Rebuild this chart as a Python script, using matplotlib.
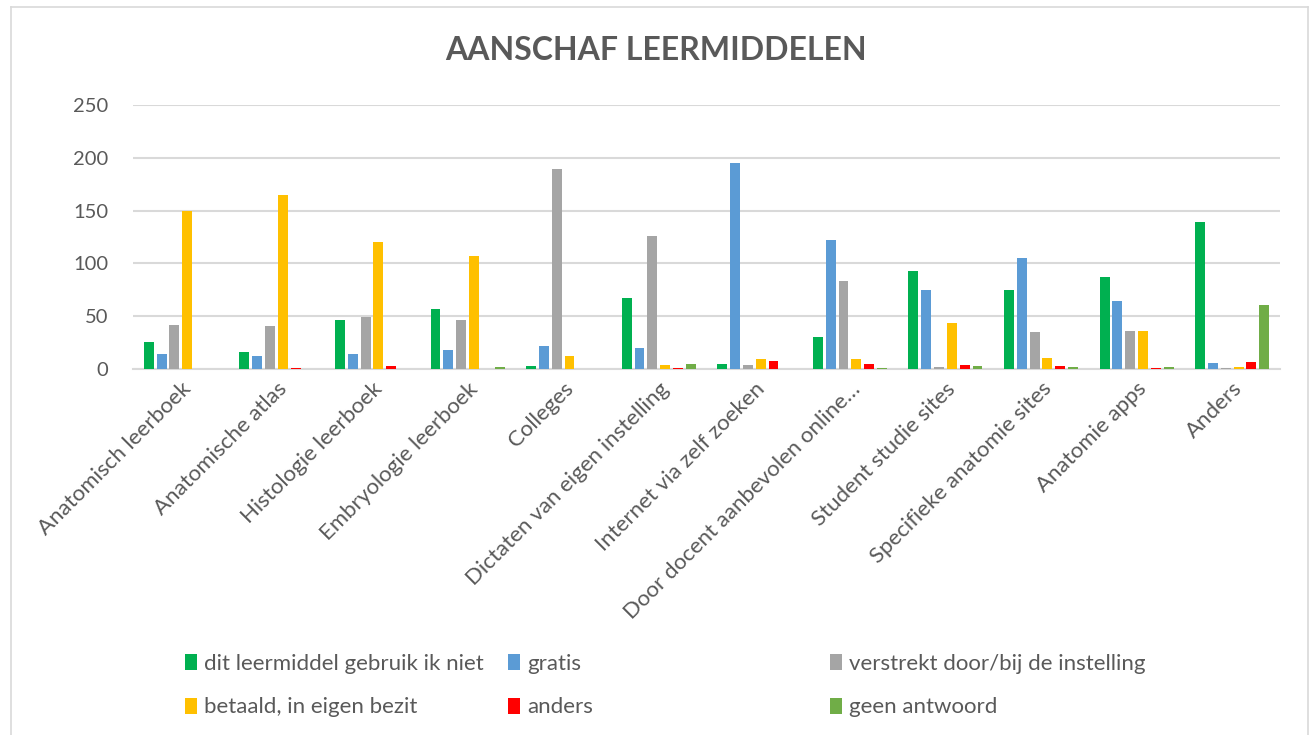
import numpy as np
import matplotlib.pyplot as plt
from matplotlib.patches import Patch
from matplotlib.lines import Line2D

plt.rcParams['font.family'] = ['Lato', 'DejaVu Sans']

categories = ['Anatomisch leerboek', 'Anatomische atlas', 'Histologie leerboek',
              'Embryologie leerboek', 'Colleges', 'Dictaten van eigen instelling',
              'Internet via zelf zoeken', 'Door docent aanbevolen online…',
              'Student studie sites', 'Specifieke anatomie sites', 'Anatomie apps', 'Anders']

series_names = ['dit leermiddel gebruik ik niet', 'gratis', 'verstrekt door/bij de instelling',
                'betaald, in eigen bezit', 'anders', 'geen antwoord']

niet_gebruikt = [26, 16, 46, 57, 3, 67, 5, 30, 93, 75, 87, 139]
gratis = [14, 12, 14, 18, 22, 20, 195, 122, 75, 105, 64, 6]
verstrekt = [42, 41, 49, 46, 189, 126, 4, 83, 2, 35, 36, 1]
betaald = [150, 165, 120, 107, 12, 4, 9, 9, 44, 10, 36, 2]
anders = [0, 1, 3, 0, 0, 1, 8, 5, 4, 3, 1, 7]
geen_antwoord = [0, 0, 0, 2, 0, 5, 0, 1, 3, 2, 2, 61]

colors = ['#00B050', '#5B9BD5', '#A5A5A5', '#FFC000', '#FF0000', '#70AD47']
text_col = '#595959'
grid_col = '#D9D9D9'

series = [niet_gebruikt, gratis, verstrekt, betaald, anders, geen_antwoord]

fig = plt.figure(figsize=(13.11, 7.35), dpi=100)
ax = fig.add_axes([133 / 1311, 1 - 369 / 735, (1280 - 133) / 1311, (369 - 105) / 735])

x = np.arange(len(categories))
slot = 0.134
for i, vals in enumerate(series):
    ax.bar(x + (i - 2.5) * slot, vals, width=0.104, color=colors[i],
           edgecolor='none', zorder=3)

ax.set_xlim(-0.5, len(categories) - 0.5)
ax.set_ylim(0, 250)
ax.set_yticks([0, 50, 100, 150, 200, 250])
ax.yaxis.grid(True, color=grid_col, linewidth=1.5, zorder=0)
ax.set_axisbelow(True)
for s in ['top', 'right', 'left']:
    ax.spines[s].set_visible(False)
ax.spines['bottom'].set_color(grid_col)
ax.spines['bottom'].set_linewidth(1.5)
ax.tick_params(axis='both', length=0, colors=text_col)
ax.tick_params(axis='y', pad=18, labelsize=14.5)
ax.tick_params(axis='x', pad=7, labelsize=16)
ax.set_xticks(x)
ax.set_xticklabels(categories, rotation=45, ha='right', rotation_mode='anchor')

fig.text(0.5, 1 - 50 / 735, 'AANSCHAF LEERMIDDELEN', ha='center', va='center',
         fontsize=23, fontweight='bold', color=text_col)

# legend: three columns placed like the original
col_x = [184, 507, 829]
for c in range(3):
    handles = []
    labels = []
    for r in range(2):
        k = r * 3 + c
        handles.append(Patch(facecolor=colors[k], edgecolor='none'))
        labels.append(series_names[k])
    fig.legend(handles, labels, loc='upper left',
               bbox_to_anchor=(col_x[c] / 1311 - 0.006, 1 - 645 / 735),
               frameon=False, fontsize=16, labelcolor=text_col,
               handlelength=0.55, handleheight=0.75, handletextpad=0.3,
               labelspacing=1.06, borderaxespad=0)

# outer chart frame
frame_col = '#D9D9D9'
fig.add_artist(Line2D([11 / 1311, 11 / 1311], [0, 1 - 7 / 735], color=frame_col, lw=1.2))
fig.add_artist(Line2D([11 / 1311, 1308 / 1311], [1 - 7 / 735, 1 - 7 / 735], color=frame_col, lw=1.2))
fig.add_artist(Line2D([1308 / 1311, 1308 / 1311], [0, 1 - 7 / 735], color=frame_col, lw=1.2))

fig.savefig('out.png', dpi=100)
